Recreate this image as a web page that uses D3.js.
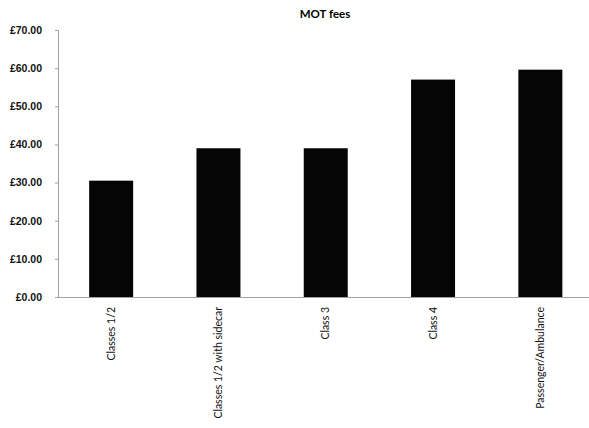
<!DOCTYPE html>
<html>
<head>
<meta charset="utf-8">
<script src="https://cdn.jsdelivr.net/npm/d3@7"></script>
<style>
  body { margin: 0; background: #fff; }
  svg { font-family: "Lato", "DejaVu Sans", sans-serif; }
</style>
</head>
<body>
<svg id="chart" width="589" height="428"></svg>
<script>
// MOT fees by vehicle class
var categories = ["Classes 1/2", "Classes 1/2 with sidecar", "Class 3", "Class 4", "Passenger/Ambulance"];
var fees = [30.5, 39.0, 39.0, 57.0, 59.6];
var yTicks = [0, 10, 20, 30, 40, 50, 60, 70];
var chartTitle = "MOT fees";

var svg = d3.select("#chart");

var x = d3.scaleBand()
    .domain(categories)
    .range([57.5, 594])
    .paddingInner(0.59)
    .paddingOuter(0.295);

var y = d3.scaleLinear()
    .domain([0, 70])
    .range([297, 30]);

// bars
svg.selectAll(".bar")
    .data(fees)
  .enter().append("rect")
    .attr("class", "bar")
    .attr("x", function(d, i) { return x(categories[i]); })
    .attr("width", x.bandwidth())
    .attr("y", function(d) { return y(d); })
    .attr("height", function(d) { return y(0) - y(d); })
    .style("fill", "#050505");

// y axis
var yAxis = svg.append("g")
    .attr("transform", "translate(58,0)")
    .call(d3.axisLeft(y).tickValues(yTicks).tickSize(3).tickPadding(13)
      .tickFormat(function(d) { return "£" + d3.format(".2f")(d); }));
yAxis.select(".domain").attr("stroke", "#a0a0a0");
yAxis.selectAll(".tick line").attr("stroke", "#a0a0a0");
yAxis.selectAll("text")
    .style("font-size", "10.5px")
    .style("font-weight", "bold")
    .style("fill", "#111");

// x axis
svg.append("line")
    .attr("x1", 58).attr("x2", 589)
    .attr("y1", y(0) + 0.5).attr("y2", y(0) + 0.5)
    .attr("stroke", "#a0a0a0");

svg.selectAll(".xlabel")
    .data(categories)
  .enter().append("text")
    .attr("class", "xlabel")
    .attr("transform", function(d) {
      return "translate(" + (x(d) + x.bandwidth() / 2 + 3.5) + ",307) rotate(-90)";
    })
    .attr("text-anchor", "end")
    .style("font-size", "10.5px")
    .style("fill", "#111")
    .text(function(d) { return d; });

// title
svg.append("text")
    .attr("x", 325)
    .attr("y", 18)
    .attr("text-anchor", "middle")
    .style("font-size", "11.5px")
    .style("font-weight", "bold")
    .text(chartTitle);
</script>
</body>
</html>
